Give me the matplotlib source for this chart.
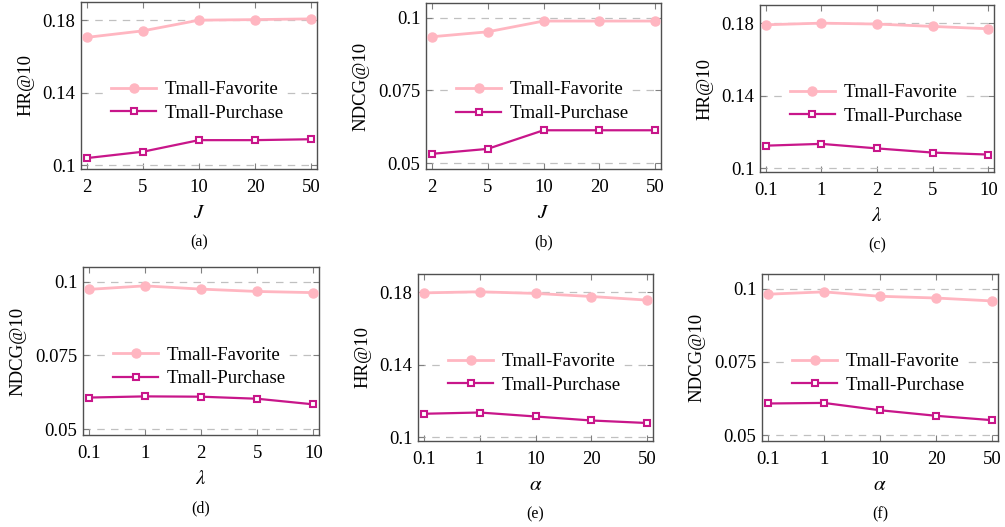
"""Sensitivity plots: HR@10 / NDCG@10 on Tmall for J, lambda and alpha."""

import matplotlib
matplotlib.use("Agg")
import matplotlib.pyplot as plt
import numpy as np

plt.rcParams["font.family"] = ["Liberation Serif", "DejaVu Serif"]
plt.rcParams["mathtext.fontset"] = "stix"

# x-axis categories
j_ticks = ["2", "5", "10", "20", "50"]
lam_ticks = ["0.1", "1", "2", "5", "10"]
alpha_ticks = ["0.1", "1", "10", "20", "50"]

# (a) HR@10 vs J
hr_j_fav = [0.1705, 0.1741, 0.1800, 0.1803, 0.1807]
hr_j_pur = [0.1040, 0.1075, 0.1139, 0.1139, 0.1144]
# (b) NDCG@10 vs J
ndcg_j_fav = [0.0934, 0.0951, 0.0988, 0.0988, 0.0988]
ndcg_j_pur = [0.0532, 0.0549, 0.0613, 0.0613, 0.0613]
# (c) HR@10 vs lambda
hr_lam_fav = [0.1791, 0.1800, 0.1795, 0.1782, 0.1769]
hr_lam_pur = [0.1125, 0.1135, 0.1110, 0.1087, 0.1076]
# (d) NDCG@10 vs lambda
ndcg_lam_fav = [0.0974, 0.0986, 0.0975, 0.0967, 0.0963]
ndcg_lam_pur = [0.0607, 0.0611, 0.0610, 0.0603, 0.0584]
# (e) HR@10 vs alpha
hr_alpha_fav = [0.1796, 0.1802, 0.1793, 0.1776, 0.1756]
hr_alpha_pur = [0.1130, 0.1137, 0.1115, 0.1093, 0.1079]
# (f) NDCG@10 vs alpha
ndcg_alpha_fav = [0.0981, 0.0989, 0.0974, 0.0968, 0.0958]
ndcg_alpha_pur = [0.0608, 0.0610, 0.0585, 0.0566, 0.0551]

hr_yticks = [0.1, 0.14, 0.18]
hr_ylabels = ["0.1", "0.14", "0.18"]
ndcg_yticks = [0.05, 0.075, 0.1]
ndcg_ylabels = ["0.05", "0.075", "0.1"]

FAV_COLOR = "#FFB6C1"
PUR_COLOR = "#C8168A"
W, H = 1005, 527

panels = [
    # (axes box in px: left, top, right, bottom), ...
    ((81, 2, 317, 169), j_ticks, hr_j_fav, hr_j_pur, "HR", r"$J$", "(a)"),
    ((426, 3, 661, 169), j_ticks, ndcg_j_fav, ndcg_j_pur, "NDCG", r"$J$", "(b)"),
    ((760, 5, 994, 172), lam_ticks, hr_lam_fav, hr_lam_pur, "HR", r"$\lambda$", "(c)"),
    ((83, 267, 319, 435), lam_ticks, ndcg_lam_fav, ndcg_lam_pur, "NDCG", r"$\lambda$", "(d)"),
    ((418, 274, 653, 441), alpha_ticks, hr_alpha_fav, hr_alpha_pur, "HR", r"$\alpha$", "(e)"),
    ((762, 274, 998, 441), alpha_ticks, ndcg_alpha_fav, ndcg_alpha_pur, "NDCG", r"$\alpha$", "(f)"),
]

fig = plt.figure(figsize=(W / 100, H / 100), dpi=100)

for (l, t, r, b), xt, fav, pur, metric, xlabel, cap in panels:
    ax = fig.add_axes([l / W, 1 - b / H, (r - l) / W, (b - t) / H])
    x = np.arange(len(xt))
    ax.plot(x, fav, color=FAV_COLOR, lw=2.0, marker="o", ms=6.5,
            label="Tmall-Favorite", zorder=3, clip_on=False)
    ax.plot(x, pur, color=PUR_COLOR, lw=1.6, marker="s", ms=5.0, mfc="white",
            mew=1.5, label="Tmall-Purchase", zorder=3, clip_on=False)

    if metric == "HR":
        ax.set_ylim(0.098, 0.19)
        ax.set_yticks(hr_yticks)
        ax.set_yticklabels(hr_ylabels)
        ax.set_ylabel("HR@10", fontsize=13.5, labelpad=6)
    else:
        ax.set_ylim(0.048, 0.105)
        ax.set_yticks(ndcg_yticks)
        ax.set_yticklabels(ndcg_ylabels)
        ax.set_ylabel("NDCG@10", fontsize=13.5, labelpad=6)

    ax.set_xlim(-0.1, len(xt) - 0.9)
    ax.set_xticks(x)
    ax.set_xticklabels(xt)
    ax.set_xlabel(xlabel, fontsize=15, labelpad=6)

    ax.grid(axis="y", color="#c0c0c0", lw=0.9, linestyle=(0, (6, 5)))
    ax.set_axisbelow(True)
    ax.tick_params(direction="in", top=True, right=True, length=4,
                   color="#808080", labelsize=13.5, pad=4)
    ax.tick_params(axis="x", pad=7)
    for s in ax.spines.values():
        s.set_color("#505050")
        s.set_linewidth(1.0)

    leg = ax.legend(loc="center left", bbox_to_anchor=(0.12, 0.405),
                    fontsize=13.5, frameon=True, fancybox=False,
                    borderpad=0.1, borderaxespad=0, handlelength=2.4,
                    handletextpad=0.45, labelspacing=0.35)
    leg.get_frame().set_facecolor("white")
    leg.get_frame().set_edgecolor("none")
    leg.get_frame().set_alpha(1)

    fig.text((l + r) / 2 / W, 1 - (b + 73) / H, cap, ha="center", va="center",
             fontsize=11.5)

fig.savefig("out.png", dpi=100)
